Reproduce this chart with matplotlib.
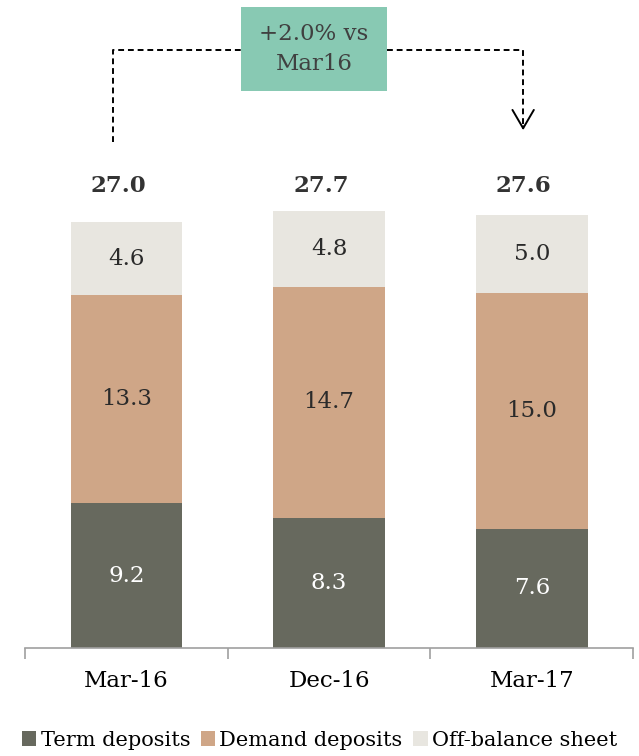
import numpy as np
import matplotlib.pyplot as plt
from matplotlib.patches import Rectangle

categories = ["Mar-16", "Dec-16", "Mar-17"]
term = [9.2, 8.3, 7.6]
demand = [13.3, 14.7, 15.0]
offbal = [4.6, 4.8, 5.0]
totals = ["27.0", "27.7", "27.6"]
series_names = ["Term deposits", "Demand deposits", "Off-balance sheet"]
colors = ["#67695E", "#CFA687", "#E8E6E0"]
callout = "+2.0% vs\nMar16"

plt.rcParams['font.family'] = ['DejaVu Serif']
txt = "#2a2a2a"

fig = plt.figure(figsize=(6.39, 7.56), dpi=100)
ax = fig.add_axes([0.039, 0.143, 0.952, 0.857])

x = np.arange(len(categories))
w = 0.55
term = np.array(term)
demand = np.array(demand)
offbal = np.array(offbal)

b1 = ax.bar(x, term, w, color=colors[0], label=series_names[0])
b2 = ax.bar(x, demand, w, bottom=term, color=colors[1], label=series_names[1])
b3 = ax.bar(x, offbal, w, bottom=term + demand, color=colors[2], label=series_names[2])

for i in range(len(x)):
    ax.text(x[i], term[i] / 2, f"{term[i]:.1f}", ha='center', va='center',
            color='white', fontsize=16.5)
    ax.text(x[i], term[i] + demand[i] / 2, f"{demand[i]:.1f}", ha='center',
            va='center', color=txt, fontsize=16.5)
    ax.text(x[i], term[i] + demand[i] + offbal[i] / 2, f"{offbal[i]:.1f}",
            ha='center', va='center', color=txt, fontsize=16.5)
    ax.text(x[i] - 0.04, 29.4, totals[i], ha='center', va='center',
            color='#333333', fontsize=16.5, fontweight='bold')

ax.set_xlim(-0.5, 2.5)
ax.set_ylim(0, 41.27)
ax.set_xticks(x)
ax.set_xticklabels(categories, fontsize=16.5, color='black')
ax.set_xticks([-0.5, 0.5, 1.5, 2.5], minor=True)
ax.tick_params(axis='x', which='major', length=0, pad=16)
ax.tick_params(axis='x', which='minor', length=8, direction='out', color='#A0A0A0', width=1.2)
ax.set_yticks([])
for s in ['top', 'right', 'left']:
    ax.spines[s].set_visible(False)
ax.spines['bottom'].set_color('#A0A0A0')
ax.spines['bottom'].set_linewidth(1.2)

# callout with dashed connector
box_x0, box_x1, box_y0, box_y1 = 0.566, 1.286, 35.5, 40.8
lx, rx, ly = -0.066, 1.957, 38.1
dash = dict(color='black', lw=1.4, ls=(0, (3, 2)), clip_on=False)
ax.plot([lx, lx, box_x0], [32.2, ly, ly], **dash)
ax.plot([box_x1, rx, rx], [ly, ly, 33.1], **dash)
ax.annotate("", xy=(rx, 32.8), xytext=(rx, 33.4),
            arrowprops=dict(arrowstyle='->,head_width=0.35,head_length=0.6',
                            mutation_scale=22, color='black', lw=1.4),
            annotation_clip=False)
ax.add_patch(Rectangle((box_x0, box_y0), box_x1 - box_x0, box_y1 - box_y0,
                       facecolor='#88C9B3', edgecolor='none', clip_on=False, zorder=3))
ax.text((box_x0 + box_x1) / 2, (box_y0 + box_y1) / 2, callout, ha='center',
        va='center', fontsize=16.5, color='#404040', linespacing=1.45, zorder=4)

fig.legend(handles=[b1, b2, b3], loc='lower center', bbox_to_anchor=(0.5, -0.008),
           ncol=3, frameon=False, fontsize=15, handlelength=0.7, handleheight=0.7,
           handletextpad=0.2, columnspacing=0.5, labelcolor='black', borderaxespad=0.2)

fig.savefig("out.png", dpi=100)
